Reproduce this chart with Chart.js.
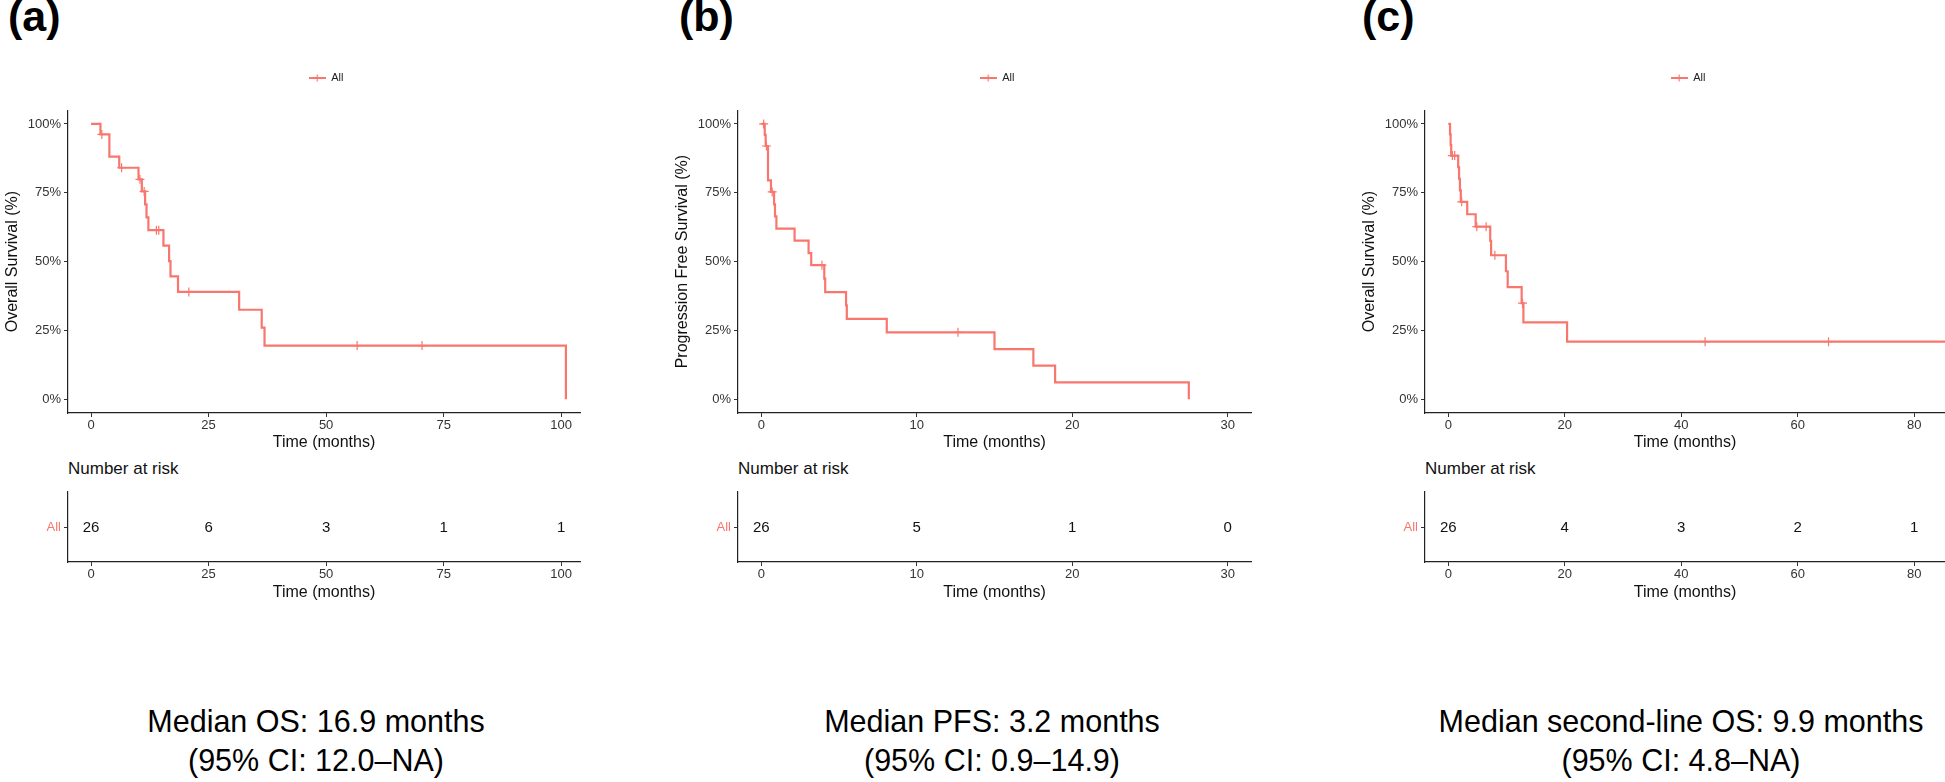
<!DOCTYPE html>
<html>
<head>
<meta charset="utf-8">
<script src="https://cdn.jsdelivr.net/npm/chart.js@4.4.1/dist/chart.umd.min.js"></script>
<style>
html, body { margin: 0; padding: 0; background: #fff; }
body { width: 1945px; height: 782px; position: relative; overflow: hidden; font-family: "Liberation Sans", Arial, sans-serif; }
canvas { position: absolute; }
.tag { position: absolute; font-weight: bold; font-size: 43px; line-height: 43px; color: #000; }
.nar { position: absolute; font-size: 17px; line-height: 20px; color: #111; }
.median { position: absolute; width: 640px; font-size: 30.5px; line-height: 39px; text-align: center; color: #000; }
</style>
</head>
<body>
<div class="tag" style="left:8px;top:-5px">(a)</div>
<div class="tag" style="left:679px;top:-5px">(b)</div>
<div class="tag" style="left:1362px;top:-5px">(c)</div>

<canvas id="kmA" width="652" height="392" style="left:0px;top:60px"></canvas>
<canvas id="kmB" width="654" height="392" style="left:670px;top:60px"></canvas>
<canvas id="kmC" width="662" height="392" style="left:1357px;top:60px"></canvas>

<div class="nar" style="left:68px;top:459px">Number at risk</div>
<div class="nar" style="left:738px;top:459px">Number at risk</div>
<div class="nar" style="left:1425px;top:459px">Number at risk</div>

<canvas id="riskA" width="657" height="122" style="left:0px;top:480px"></canvas>
<canvas id="riskB" width="648" height="122" style="left:670px;top:480px"></canvas>
<canvas id="riskC" width="658" height="122" style="left:1357px;top:480px"></canvas>

<div class="median" style="left:-4px;top:702px">Median OS: 16.9 months<br>(95% CI: 12.0–NA)</div>
<div class="median" style="left:672px;top:702px">Median PFS: 3.2 months<br>(95% CI: 0.9–14.9)</div>
<div class="median" style="left:1361px;top:702px">Median second-line OS: 9.9 months<br>(95% CI: 4.8–NA)</div>

<script>
// (a) overall survival, months
const osTime = [0, 2.0, 3.9, 6.0, 10.1, 10.8, 11.5, 11.8, 12.2, 15.4, 16.6, 16.9, 18.5, 31.5, 36.3, 36.9, 101.0];
const osSurv = [100, 96.2, 88.1, 84.1, 79.9, 75.5, 70.8, 66.1, 61.4, 55.8, 50.2, 44.6, 39.0, 32.5, 26.0, 19.5, 0];
const osCensTime = [2.3, 6.5, 10.4, 11.3, 13.9, 14.4, 20.8, 56.6, 70.4];
const osCensSurv = [96.2, 84.1, 79.9, 75.5, 61.4, 61.4, 39.0, 19.5, 19.5];
const osTicks = [0, 25, 50, 75, 100];
const osRisk = [26, 6, 3, 1, 1];

// (b) progression free survival
const pfsTime = [0, 0.22, 0.28, 0.43, 0.62, 0.82, 0.88, 0.97, 2.14, 3.04, 3.21, 4.05, 4.11, 5.45, 5.5, 8.07, 15.0, 17.5, 18.9, 27.5];
const pfsSurv = [100, 96.0, 92.0, 79.5, 75.3, 70.8, 66.4, 62.0, 57.6, 53.1, 48.7, 43.8, 38.9, 34.1, 29.2, 24.3, 18.2, 12.2, 6.1, 0];
const pfsCensTime = [0.15, 0.33, 0.7, 3.9, 12.65];
const pfsCensSurv = [100, 92.0, 75.3, 48.7, 24.3];
const pfsTicks = [0, 10, 20, 30];
const pfsRisk = [26, 5, 1, 0];

// (c) second-line overall survival
const slTime = [0, 0.3, 0.4, 0.5, 1.7, 1.85, 2.0, 2.15, 3.25, 4.7, 7.2, 7.35, 9.9, 10.2, 12.6, 12.9, 20.4, 85.3];
const slSurv = [100, 96.2, 92.3, 88.5, 84.3, 80.1, 75.9, 71.7, 67.2, 62.7, 57.5, 52.3, 46.5, 40.7, 34.9, 27.9, 20.9, 20.9];
const slCensTime = [0.7, 1.1, 2.3, 4.9, 6.5, 8.0, 12.75, 44.1, 65.3];
const slCensSurv = [88.5, 88.5, 71.7, 62.7, 62.7, 52.3, 34.9, 20.9, 20.9];
const slTicks = [0, 20, 40, 60, 80];
const slRisk = [26, 4, 3, 2, 1];

const survTicks = [0, 25, 50, 75, 100];
const strata = ['All'];

const RED = '#F8766D';
const FONT = '"Liberation Sans", Arial, sans-serif';
Chart.defaults.font.family = FONT;

// legend key: line with a censor cross
const key = document.createElement('canvas');
key.width = 17; key.height = 8;
const kctx = key.getContext('2d');
kctx.strokeStyle = RED;
kctx.lineWidth = 2;
kctx.beginPath(); kctx.moveTo(0, 4); kctx.lineTo(17, 4); kctx.stroke();
kctx.lineWidth = 1.2;
kctx.beginPath(); kctx.moveTo(8.5, 0.5); kctx.lineTo(8.5, 7.5); kctx.stroke();

// invisible scale used only to reserve space
function spacer(axis, position, size) {
    return {
        type: 'linear', axis: axis, position: position, display: true,
        ticks: { display: false }, grid: { display: false }, border: { display: false },
        afterFit: s => { if (axis === 'x') s.height = size; else s.width = size; }
    };
}

function xScale(ticks, min, max, h) {
    return {
        type: 'linear', min: min, max: max,
        afterBuildTicks: s => { s.ticks = ticks.map(v => ({ value: v })); },
        afterFit: s => { s.height = h; },
        grid: { drawOnChartArea: false, drawTicks: true, tickLength: 4, color: '#333' },
        border: { display: true, color: '#222', width: 1.2 },
        ticks: { padding: 1, autoSkip: false, maxRotation: 0, color: '#333', font: { size: 13 } },
        title: { display: true, text: 'Time (months)', color: '#111', font: { size: 16 }, padding: 0 }
    };
}

function kmChart(id, times, surv, censT, censS, ticks, min, max, ytitle, padRight) {
    new Chart(document.getElementById(id), {
        type: 'line',
        data: {
            datasets: [{
                label: strata[0],
                data: times.map((t, i) => ({ x: t, y: surv[i] })),
                xAxisID: 'x',
                yAxisID: 'y',
                stepped: 'before',
                borderColor: RED,
                backgroundColor: RED,
                borderWidth: 2.2,
                pointRadius: 0,
                fill: false
            }, {
                label: 'censored',
                data: censT.map((t, i) => ({ x: t, y: censS[i] })),
                xAxisID: 'x',
                yAxisID: 'y',
                showLine: false,
                pointStyle: 'cross',
                pointRadius: 4.5,
                borderColor: RED,
                borderWidth: 1.2
            }]
        },
        options: {
            responsive: false,
            animation: false,
            layout: { padding: { top: 12.5, right: 0, left: 0, bottom: 0 } },
            plugins: {
                legend: {
                    labels: {
                        filter: it => it.datasetIndex === 0,
                        usePointStyle: true,
                        pointStyle: key,
                        pointStyleWidth: 17,
                        padding: 0,
                        color: '#222',
                        font: { size: 11 }
                    }
                },
                tooltip: { enabled: false }
            },
            scales: {
                x: xScale(ticks, min, max, 39),
                gapTop: spacer('x', 'top', 16.7),
                gapRight: spacer('y', 'right', padRight),
                y: {
                    min: -5, max: 105,
                    afterBuildTicks: s => { s.ticks = survTicks.map(v => ({ value: v })); },
                    afterFit: s => { s.width = 68; },
                    grid: { drawOnChartArea: false, drawTicks: true, tickLength: 4, color: '#333' },
                    border: { display: true, color: '#222', width: 1.2 },
                    ticks: { padding: 3, color: '#333', font: { size: 13 }, callback: v => v + '%' },
                    title: { display: true, text: ytitle, color: '#111', font: { size: 16 }, padding: { top: 3.4, bottom: 0 } }
                }
            }
        }
    });
}

const riskLabels = {
    id: 'riskLabels',
    afterDatasetsDraw(chart) {
        const meta = chart.getDatasetMeta(0);
        const ctx = chart.ctx;
        ctx.save();
        ctx.font = '15px ' + FONT;
        ctx.fillStyle = '#111';
        ctx.textAlign = 'center';
        ctx.textBaseline = 'middle';
        meta.data.forEach((pt, i) => {
            ctx.fillText(String(chart.data.datasets[0].data[i].n), pt.x, pt.y + 1);
        });
        ctx.restore();
    }
};

function riskChart(id, ticks, counts, min, max, padRight) {
    new Chart(document.getElementById(id), {
        type: 'scatter',
        data: {
            datasets: [{
                label: strata[0],
                data: ticks.map((t, i) => ({ x: t, y: strata[0], n: counts[i] })),
                xAxisID: 'x',
                yAxisID: 'y',
                pointRadius: 0
            }]
        },
        options: {
            responsive: false,
            animation: false,
            layout: { padding: { top: 12, right: padRight, left: 0, bottom: 0 } },
            plugins: { legend: { display: false }, tooltip: { enabled: false } },
            scales: {
                x: xScale(ticks, min, max, 40),
                y: {
                    type: 'category', labels: strata, offset: true,
                    afterFit: s => { s.width = 68; },
                    grid: { drawOnChartArea: false, drawTicks: true, tickLength: 4, color: '#333', offset: false },
                    border: { display: true, color: '#222', width: 1.2 },
                    ticks: { padding: 3, color: RED, font: { size: 13 } }
                }
            }
        },
        plugins: [riskLabels]
    });
}

kmChart('kmA', osTime, osSurv, osCensTime, osCensSurv, osTicks, -4.9, 104.0, 'Overall Survival (%)', 72);
kmChart('kmB', pfsTime, pfsSurv, pfsCensTime, pfsCensSurv, pfsTicks, -1.5, 31.5, 'Progression Free Survival (%)', 73);
kmChart('kmC', slTime, slSurv, slCensTime, slCensSurv, slTicks, -4, 85.3, 'Overall Survival (%)', 74);

riskChart('riskA', osTicks, osRisk, -4.9, 104.0, 77);
riskChart('riskB', pfsTicks, pfsRisk, -1.5, 31.5, 67);
riskChart('riskC', slTicks, slRisk, -4, 85.3, 70);
</script>
</body>
</html>
